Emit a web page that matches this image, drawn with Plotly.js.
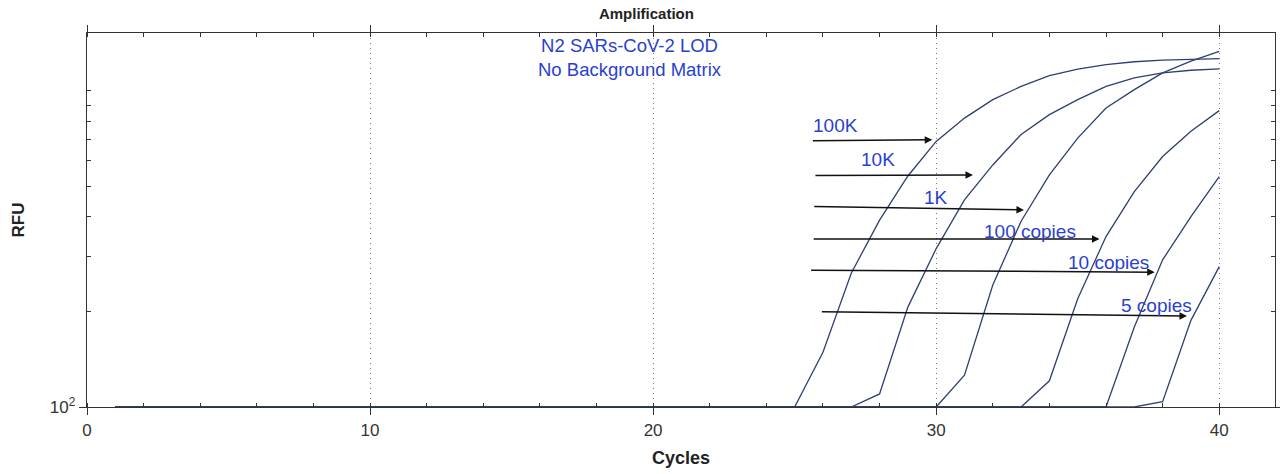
<!DOCTYPE html>
<html>
<head>
<meta charset="utf-8">
<script src="https://cdn.plot.ly/plotly-3.0.1.min.js"></script>
<style>
  html, body { margin: 0; padding: 0; background: #ffffff; }
  #chart { width: 1280px; height: 474px; }
</style>
</head>
<body>
<div id="chart"></div>
<script>
// Amplification curves, RFU per cycle
const cycles = [1, 2, 3, 4, 5, 6, 7, 8, 9, 10, 11, 12, 13, 14, 15, 16, 17, 18, 19, 20,
                21, 22, 23, 24, 25, 26, 27, 28, 29, 30, 31, 32, 33, 34, 35, 36, 37, 38, 39, 40];

const rfu100K = [100, 100, 100, 100, 100, 100, 100, 100, 100, 100, 100, 100, 100, 100, 100, 100, 100, 100, 100, 100,
                 100, 100, 100, 100, 100, 149, 265, 390, 538, 692, 820, 938, 1033, 1117, 1172, 1211, 1236, 1250, 1259, 1265];
const rfu10K = [100, 100, 100, 100, 100, 100, 100, 100, 100, 100, 100, 100, 100, 100, 100, 100, 100, 100, 100, 100,
                100, 100, 100, 100, 100, 100, 100, 110, 207, 317, 452, 583, 728, 841, 938, 1033, 1099, 1140, 1162, 1173];
const rfu1K = [100, 100, 100, 100, 100, 100, 100, 100, 100, 100, 100, 100, 100, 100, 100, 100, 100, 100, 100, 100,
               100, 100, 100, 100, 100, 100, 100, 100, 100, 100, 126, 243, 387, 542, 709, 883, 1009, 1140, 1241, 1334];
const rfu100c = [100, 100, 100, 100, 100, 100, 100, 100, 100, 100, 100, 100, 100, 100, 100, 100, 100, 100, 100, 100,
                 100, 100, 100, 100, 100, 100, 100, 100, 100, 100, 100, 100, 100, 121, 220, 346, 480, 620, 745, 866];
const rfu10c = [100, 100, 100, 100, 100, 100, 100, 100, 100, 100, 100, 100, 100, 100, 100, 100, 100, 100, 100, 100,
                100, 100, 100, 100, 100, 100, 100, 100, 100, 100, 100, 100, 100, 100, 100, 100, 179, 292, 400, 535];
const rfu5c = [100, 100, 100, 100, 100, 100, 100, 100, 100, 100, 100, 100, 100, 100, 100, 100, 100, 100, 100, 100,
               100, 100, 100, 100, 100, 100, 100, 100, 100, 100, 100, 100, 100, 100, 100, 100, 100, 104, 188, 278];

// Hand-drawn labels and arrows: label, label position, arrow tail and head (cycle, RFU)
const labels = ['100K', '10K', '1K', '100 copies', '10 copies', '5 copies'];
const labelX = [26.45, 27.96, 30.0, 33.3, 36.1, 37.77];
const labelY = [776, 605, 459, 359, 287, 210];
const arrowTailX = [25.59, 25.68, 25.64, 25.62, 25.53, 25.91];
const arrowTailY = [695, 540, 431, 340, 271, 200];
const arrowHeadX = [29.86, 31.3, 33.1, 35.77, 37.72, 38.86];
const arrowHeadY = [700, 542, 420, 340, 267, 194];

const yTickVals = [100, 200, 300, 400, 500, 600, 700, 800, 900, 1000];

const Theme = {
    line: '#2e3f72',
    blue: '#2a3fd0',
    text: '#222222',
    axis: '#333333',
    grid: '#7a7a7a'
};

const series = [rfu100K, rfu10K, rfu1K, rfu100c, rfu10c, rfu5c];

const traces = series.map((vals, i) => ({
    x: cycles,
    y: vals,
    type: 'scatter',
    mode: 'lines',
    name: labels[i],
    line: { color: Theme.line, width: 1.3 },
    hoverinfo: 'x+y'
}));

const annotations = [];

labels.forEach((txt, i) => {
    annotations.push({
        x: arrowHeadX[i],
        y: Math.log10(arrowHeadY[i]),
        xref: 'x',
        yref: 'y',
        ax: arrowTailX[i],
        ay: Math.log10(arrowTailY[i]),
        axref: 'x',
        ayref: 'y',
        text: '',
        showarrow: true,
        arrowhead: 2,
        arrowsize: 1,
        arrowwidth: 1.5,
        arrowcolor: '#111111'
    });
    annotations.push({
        x: labelX[i],
        y: Math.log10(labelY[i]),
        xref: 'x',
        yref: 'y',
        text: txt,
        showarrow: false,
        font: { family: 'Liberation Sans, Arial, sans-serif', size: 19, color: Theme.blue }
    });
});

annotations.push({
    x: 19.2,
    y: 1.0,
    xref: 'x',
    yref: 'paper',
    yanchor: 'top',
    text: 'N2 SARs-CoV-2 LOD<br>No Background Matrix',
    showarrow: false,
    align: 'center',
    font: { family: 'Liberation Sans, Arial, sans-serif', size: 18.5, color: Theme.blue }
});

const layout = {
    width: 1280,
    height: 474,
    font: { family: 'Liberation Sans, Arial, sans-serif', size: 15, color: Theme.text },
    paper_bgcolor: '#ffffff',
    plot_bgcolor: '#ffffff',
    margin: { t: 33, b: 67, l: 87, r: 5 },
    showlegend: false,
    title: {
        text: '<b>Amplification</b>',
        font: { size: 15, color: Theme.text },
        x: 0.505,
        xanchor: 'center',
        y: 0.97,
        yanchor: 'middle'
    },
    xaxis: {
        title: { text: '<b>Cycles</b>', font: { size: 18 }, standoff: 12 },
        range: [0, 41.97],
        tickmode: 'linear',
        tick0: 0,
        dtick: 10,
        ticks: 'outside',
        ticklen: 7,
        tickcolor: Theme.axis,
        tickfont: { size: 17, color: '#333333' },
        showline: true,
        linecolor: Theme.axis,
        linewidth: 1.4,
        mirror: 'ticks',
        showgrid: true,
        gridcolor: Theme.grid,
        griddash: '1px,4px',
        gridwidth: 1.3,
        zeroline: false,
        minor: { dtick: 2, ticks: 'inside', ticklen: 4, tickcolor: Theme.axis, showgrid: false }
    },
    yaxis: {
        title: { text: '<b>RFU</b>', font: { size: 17 }, standoff: 20 },
        type: 'log',
        range: [2, 3.183],
        tickmode: 'array',
        tickvals: [100],
        ticktext: ['10<sup>2</sup>'],
        ticks: 'outside',
        ticklen: 7,
        tickcolor: Theme.axis,
        tickfont: { size: 17, color: '#333333' },
        showline: true,
        linecolor: Theme.axis,
        linewidth: 1.4,
        mirror: 'ticks',
        showgrid: false,
        zeroline: false,
        minor: { tickmode: 'array', tickvals: yTickVals.slice(1), ticks: 'inside', ticklen: 4, tickcolor: Theme.axis, showgrid: false }
    },
    annotations: annotations
};

Plotly.newPlot('chart', traces, layout, { displayModeBar: false, responsive: false });
</script>
</body>
</html>
